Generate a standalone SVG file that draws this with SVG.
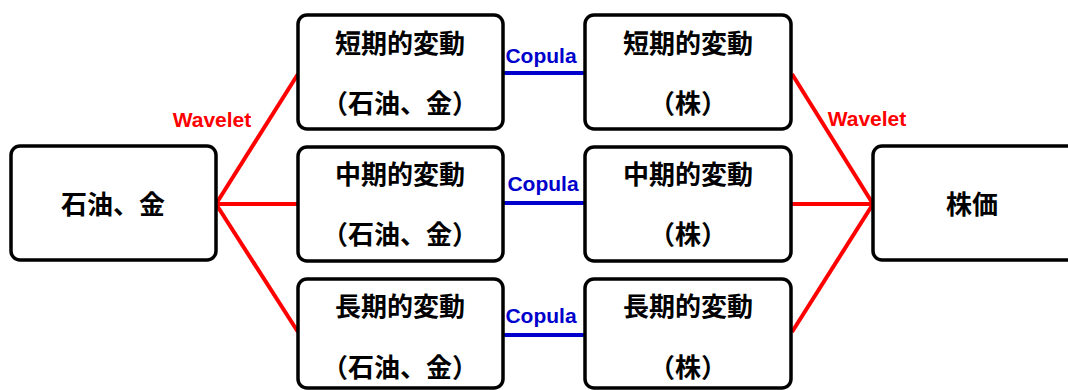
<svg xmlns="http://www.w3.org/2000/svg" width="1068" height="390" viewBox="0 0 1068 390">
<style>
.box{fill:#fff;stroke:#000;stroke-width:3.5}
.t{font-family:"Noto Sans CJK JP","Liberation Sans",sans-serif;font-weight:bold;font-size:26px;fill:#000;text-anchor:middle}
.red{stroke:#ff0000;stroke-width:4;fill:none}
.blue{stroke:#0000cc;stroke-width:4;fill:none}
.wl{font-family:"Liberation Sans",Arial,sans-serif;font-weight:bold;font-size:21px;fill:#ff0000;text-anchor:middle}
.cp{font-family:"Liberation Sans",Arial,sans-serif;font-weight:bold;font-size:21px;fill:#0000cc;text-anchor:middle}
</style>
<rect width="1068" height="390" fill="#fff"/>
<g id="connectors">
<line class="red" x1="216" y1="204" x2="298" y2="74"/>
<line class="red" x1="216" y1="204" x2="298" y2="204"/>
<line class="red" x1="216" y1="204" x2="298" y2="332"/>
<line class="red" x1="792" y1="74" x2="873" y2="204"/>
<line class="red" x1="792" y1="204" x2="873" y2="204"/>
<line class="red" x1="792" y1="332" x2="873" y2="204"/>
<line class="blue" x1="503" y1="73" x2="585" y2="73"/>
<line class="blue" x1="503" y1="203" x2="585" y2="203"/>
<line class="blue" x1="503" y1="335" x2="585" y2="335"/>
<text class="wl" x="212" y="127">Wavelet</text>
<text class="wl" x="867" y="126">Wavelet</text>
<text class="cp" x="541" y="63">Copula</text>
<text class="cp" x="543" y="191">Copula</text>
<text class="cp" x="541" y="323">Copula</text>
</g>
<g id="n_src"><rect class="box" x="11" y="146" width="205" height="114" rx="9"/><text class="t" x="113" y="214">石油、金</text></g>
<g id="n_s1"><rect class="box" x="298" y="15" width="205" height="114" rx="9"/><text class="t" x="400" y="53">短期的変動</text><text class="t" x="400" y="113">（石油、金）</text></g>
<g id="n_m1"><rect class="box" x="298" y="147" width="205" height="114" rx="9"/><text class="t" x="400" y="184">中期的変動</text><text class="t" x="400" y="244">（石油、金）</text></g>
<g id="n_l1"><rect class="box" x="298" y="279" width="205" height="109" rx="9"/><text class="t" x="400" y="316">長期的変動</text><text class="t" x="400" y="377">（石油、金）</text></g>
<g id="n_s2"><rect class="box" x="585" y="15" width="206" height="114" rx="9"/><text class="t" x="688" y="53">短期的変動</text><text class="t" x="688" y="113">（株）</text></g>
<g id="n_m2"><rect class="box" x="585" y="147" width="206" height="114" rx="9"/><text class="t" x="688" y="184">中期的変動</text><text class="t" x="688" y="244">（株）</text></g>
<g id="n_l2"><rect class="box" x="585" y="279" width="206" height="109" rx="9"/><text class="t" x="688" y="316">長期的変動</text><text class="t" x="688" y="377">（株）</text></g>
<g id="n_dst"><rect class="box" x="873" y="146" width="205" height="114" rx="9"/><text class="t" x="972" y="214">株価</text></g>
</svg>
